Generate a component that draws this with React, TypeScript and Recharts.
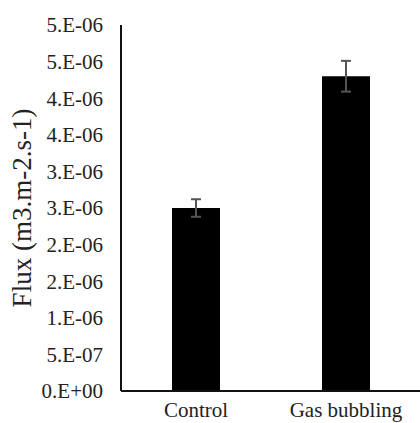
import React from 'react';
import { BarChart, Bar, XAxis, YAxis, ErrorBar } from 'recharts';

const categories = ['Control', 'Gas bubbling'];
const fluxValues = [2.5e-6, 4.3e-6];
const fluxErrors = [1.2e-7, 2.1e-7];

const yTicks = [0, 5e-7, 1e-6, 1.5e-6, 2e-6, 2.5e-6, 3e-6, 3.5e-6, 4e-6, 4.5e-6, 5e-6];
const yTickLabels = [
  '0.E+00', '5.E-07', '1.E-06', '2.E-06', '2.E-06', '3.E-06',
  '3.E-06', '4.E-06', '4.E-06', '5.E-06', '5.E-06',
];

const data = categories.map((name, i) => ({
  name,
  flux: fluxValues[i],
  err: fluxErrors[i],
}));

const FONT = '"Liberation Serif", "Times New Roman", serif';

const formatTick = (value: number) => {
  const idx = yTicks.findIndex((t) => Math.abs(t - value) < 1e-9);
  return idx >= 0 ? yTickLabels[idx] : String(value);
};

const App: React.FC = () => {
  return (
    <div style={{ position: 'absolute', left: 0, top: 0, width: 420, height: 423, background: '#fff' }}>
      <BarChart
        width={420}
        height={423}
        data={data}
        margin={{ top: 25, right: -1, left: 0, bottom: 0 }}
        barCategoryGap="34%"
      >
        <XAxis
          dataKey="name"
          height={32}
          tickLine={false}
          axisLine={{ stroke: '#111', strokeWidth: 2 }}
          tick={{ fontSize: 21, fill: '#222', fontFamily: FONT }}
          tickMargin={5}
        />
        <YAxis
          width={121}
          domain={[0, 5e-6]}
          ticks={yTicks}
          interval={0}
          tickFormatter={formatTick}
          tickLine={false}
          axisLine={{ stroke: '#111', strokeWidth: 2 }}
          tick={{ fontSize: 21, fill: '#222', fontFamily: FONT }}
          tickMargin={12}
          label={{
            value: 'Flux (m3.m-2.s-1)',
            angle: -90,
            position: 'insideLeft',
            offset: 21,
            style: { fontSize: 27, fill: '#222', fontFamily: FONT, textAnchor: 'middle' },
          }}
        />
        <Bar dataKey="flux" fill="#000" isAnimationActive={false}>
          <ErrorBar dataKey="err" width={5} stroke="#555" strokeWidth={2} direction="y" />
        </Bar>
      </BarChart>
    </div>
  );
};

export default App;
